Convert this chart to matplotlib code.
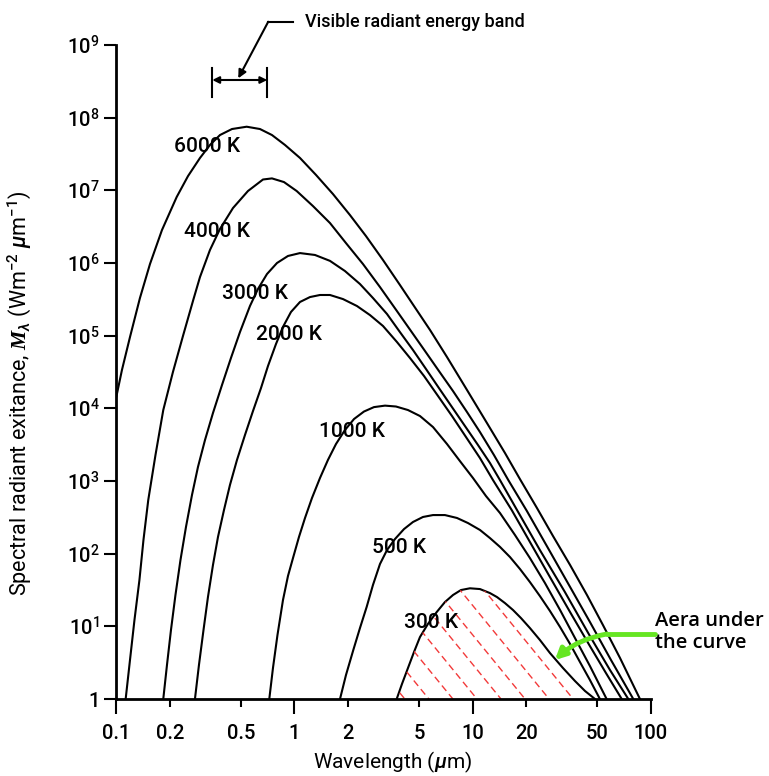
import matplotlib
matplotlib.use('Agg')
import matplotlib.pyplot as plt
from matplotlib.patches import Polygon
from matplotlib.ticker import FixedLocator, FixedFormatter, NullLocator
import numpy as np

plt.rcParams['font.family'] = ['Roboto', 'DejaVu Sans']
plt.rcParams['font.weight'] = 'medium'
plt.rcParams['mathtext.fontset'] = 'custom'
plt.rcParams['mathtext.rm'] = 'Roboto:medium'
plt.rcParams['mathtext.it'] = 'Roboto:italic:medium'
plt.rcParams['mathtext.bf'] = 'Roboto:bold'
plt.rcParams['mathtext.bfit'] = 'Liberation Serif:italic:bold'

# wavelength (um) and spectral exitance (W m-2 um-1)
wl_6000 = [0.1, 0.1076, 0.1194, 0.1358, 0.1546, 0.1805, 0.2183, 0.2527, 0.2951, 0.3357,
           0.3821, 0.4463, 0.5396, 0.6408, 0.7483, 0.8855, 1.075, 1.322, 1.646, 2.051,
           2.522, 3.143, 3.914, 4.814, 5.77, 7.19, 9.31, 12.05, 15.21, 18.47,
           23.0, 28.3, 35.3, 43.9, 54.0, 67.3, 87.1]
m_6000 = [1.43e4, 3.37e4, 9.58e4, 3.30e5, 9.68e5, 2.84e6, 8.09e6, 1.57e7, 2.79e7, 4.21e7,
          5.77e7, 6.98e7, 7.51e7, 6.98e7, 5.77e7, 4.21e7, 2.79e7, 1.63e7, 8.90e6, 4.57e6,
          2.35e6, 1.10e6, 4.98e5, 2.33e5, 1.20e5, 5.08e4, 1.79e4, 6.28e3, 2.43e3, 1.06e3,
          425, 175, 69.8, 27.0, 10.4, 3.67, 1.0]

wl_4000 = [0.1129, 0.1194, 0.1265, 0.1349, 0.1421, 0.1512, 0.166, 0.1836, 0.208, 0.2368,
           0.2705, 0.2951, 0.3357, 0.3821, 0.4521, 0.5487, 0.6664, 0.7483, 0.874, 1.03,
           1.271, 1.584, 1.948, 2.427, 3.023, 3.765, 4.512, 5.41, 6.48, 7.77,
           9.31, 11.01, 13.19, 15.88, 20.2, 26.5, 35.3, 45.6, 59.9, 79.9]
m_4000 = [1.0, 3.44, 12.2, 43.4, 154, 547, 2.28e3, 9.48e3, 3.16e4, 9.89e4,
          3.10e5, 6.41e5, 1.51e6, 2.94e6, 5.71e6, 9.79e6, 1.41e7, 1.46e7, 1.30e7, 9.79e6,
          6.08e6, 3.55e6, 1.88e6, 9.68e5, 4.67e5, 2.18e5, 1.16e5, 6.15e4, 3.26e4, 1.73e4,
          8.9e3, 4.72e3, 2.28e3, 1.03e3, 386, 120, 34.8, 11.5, 3.44, 1.0]

wl_3000 = [0.1836, 0.1926, 0.2028, 0.2149, 0.2293, 0.2462, 0.2661, 0.2875, 0.3148, 0.349,
           0.3921, 0.4404, 0.4947, 0.563, 0.6243, 0.7015, 0.7984, 0.9203, 1.075, 1.305,
           1.584, 1.922, 2.334, 2.761, 3.309, 3.914, 4.632, 5.48, 6.48, 7.67,
           9.07, 10.73, 12.53, 14.26, 17.77, 23.9, 33.0, 45.6, 59.1, 74.9]
m_3000 = [1.0, 2.94, 8.90, 27.0, 81.8, 233, 642, 1.56e3, 3.66e3, 8.62e3,
          2.09e4, 4.93e4, 1.12e5, 2.56e5, 4.39e5, 7.05e5, 1.0e6, 1.25e6, 1.37e6, 1.29e6,
          1.07e6, 7.76e5, 5.14e5, 3.30e5, 1.99e5, 1.12e5, 6.35e4, 3.48e4, 1.90e4, 1.04e4,
          5.71e3, 3.13e3, 1.77e3, 1.03e3, 399, 112, 29.7, 7.36, 2.51, 1.0]

wl_2000 = [0.2765, 0.2912, 0.3088, 0.3271, 0.349, 0.3724, 0.4024, 0.4347, 0.4761, 0.5279,
           0.5855, 0.6492, 0.7106, 0.788, 0.8627, 0.9568, 1.075, 1.223, 1.392, 1.584,
           1.874, 2.245, 2.657, 3.143, 3.765, 4.455, 5.34, 6.40, 7.67, 9.19,
           11.01, 13.03, 16.59, 21.0, 27.2, 35.3, 45.6, 56.1, 68.8]
m_2000 = [1.0, 2.94, 8.90, 25.3, 69.8, 170, 399, 881, 1.95e3, 4.30e3,
          9.19e3, 1.90e4, 3.82e4, 7.67e4, 1.32e5, 2.12e5, 2.91e5, 3.40e5, 3.63e5, 3.63e5,
          3.19e5, 2.56e5, 1.92e5, 1.36e5, 8.18e4, 4.93e4, 2.79e4, 1.48e4, 7.84e3, 4.03e3,
          2.07e3, 1.03e3, 399, 145, 47.7, 15.7, 5.36, 2.28, 1.0]

wl_1000 = [0.7228, 0.758, 0.8035, 0.8627, 0.9203, 0.9856, 1.061, 1.147, 1.255, 1.392,
           1.543, 1.712, 1.922, 2.161, 2.458, 2.797, 3.225, 3.718, 4.341, 5.07,
           6.0, 7.19, 8.50, 10.06, 11.9, 14.26, 17.3, 21.0, 25.5, 31.0,
           37.6, 45.6, 56.6]
m_1000 = [1.0, 2.67, 7.60, 23.0, 49.3, 89.9, 170, 310, 583, 1.10e3,
          1.95e3, 3.23e3, 5.03e3, 7.13e3, 9.04e3, 1.04e4, 1.09e4, 1.06e4, 9.48e3, 7.84e3,
          5.53e3, 3.23e3, 1.88e3, 1.10e3, 621, 363, 181, 87.1, 39.5, 16.8,
          6.91, 2.85, 1.0]

wl_500 = [1.803, 1.948, 2.141, 2.334, 2.545, 2.761, 3.023, 3.309, 3.669, 4.123,
          4.632, 5.27, 6.0, 7.0, 8.18, 9.43, 11.01, 12.53, 14.26, 16.23,
          18.47, 21.0, 23.9, 27.2, 31.0, 35.3, 40.1, 45.6, 51.9]
m_500 = [1.0, 2.14, 4.72, 9.48, 18.5, 37.1, 72.1, 112, 159, 218,
         273, 320, 340, 340, 310, 264, 212, 164, 124, 89.9,
         61.5, 40.7, 26.1, 16.3, 9.79, 5.71, 3.23, 1.83, 1.0]

wl_300 = [3.752, 4.017, 4.341, 4.692, 5.07, 5.62, 6.29, 7.0, 7.77, 8.61,
          9.67, 11.01, 12.53, 13.72, 15.21, 16.87, 18.71, 21.0, 23.9, 27.2,
          32.2, 37.6, 42.8, 48.7]
m_300 = [1.0, 1.61, 2.67, 4.43, 7.13, 10.8, 15.7, 21.6, 27.0, 31.6,
         33.4, 32.6, 28.7, 25.3, 20.9, 16.8, 13.0, 9.48, 6.49, 4.30,
         2.67, 1.77, 1.29, 1.0]

curve_names = ['6000 K', '4000 K', '3000 K', '2000 K', '1000 K', '500 K', '300 K']
label_x = [0.323, 0.370, 0.601, 0.930, 2.118, 3.865, 5.845]
label_y = [3.98e7, 2.70e6, 3.83e5, 1.05e5, 4.77e3, 120, 11.3]

x_major = [0.1, 1, 10, 100]
x_major_labels = ['0.1', '1', '10', '100']
x_minor = [0.2, 0.5, 2, 5, 20, 50]
x_minor_labels = ['0.2', '0.5', '2', '5', '20', '50']
y_ticks = [10.0 ** k for k in range(10)]
y_labels = ['1'] + [r'$10^{%d}$' % k for k in range(1, 10)]

visible_band = [0.346, 0.704]

fig = plt.figure(figsize=(7.69, 7.76), dpi=100)
ax = fig.add_axes([0.1512, 0.0992, 0.6949, 0.8428])

curves = [(wl_6000, m_6000), (wl_4000, m_4000), (wl_3000, m_3000), (wl_2000, m_2000),
          (wl_1000, m_1000), (wl_500, m_500), (wl_300, m_300)]
for wl, m in curves:
    ax.plot(wl, m, color='black', lw=1.5, solid_joinstyle='round', solid_capstyle='round')

for name, x, y in zip(curve_names, label_x, label_y):
    ax.text(x, y, name, fontsize=15, ha='center', va='center')

ax.set_xscale('log')
ax.set_yscale('log')
ax.set_xlim(0.1, 100)
ax.set_ylim(1, 1e9)

# red dashed hatching under the 300 K curve
red = '#f23a3a'
area = Polygon(list(zip(wl_300, m_300)), closed=True, facecolor='none', edgecolor='none',
               transform=ax.transData)
ax.add_patch(area)
for xb in np.arange(0.540 - 20 * 0.045, 1.0, 0.045):
    ln, = ax.plot([xb - 1.0, xb], [1, 0], transform=ax.transAxes, color=red, lw=1.0,
                  ls=(0, (5, 3)))
    ln.set_clip_path(area)

# visible band marker
band_y = 3.30e8
for bx in visible_band:
    ax.plot([bx, bx], [1.94e8, 4.78e8], color='black', lw=1.5)
ax.annotate('', xy=(visible_band[0], band_y), xytext=(visible_band[1], band_y),
            arrowprops=dict(arrowstyle='<|-|>', color='black', lw=1.5, mutation_scale=10,
                            shrinkA=0, shrinkB=0))
ax.plot([0.9856, 0.713], [2.09e9, 2.09e9], color='black', lw=1.5, clip_on=False)
ax.annotate('', xy=(0.484, 3.48e8), xytext=(0.713, 2.09e9), annotation_clip=False,
            arrowprops=dict(arrowstyle='-|>', color='black', lw=1.5, mutation_scale=12,
                            shrinkA=0, shrinkB=0))
ax.text(1.147, 2.09e9, 'Visible radiant energy band', fontsize=13, ha='left', va='center')

# green pointer to the area under the curve
green = '#66e622'
ax.plot([105.7, 56.6], [7.84, 7.84], color=green, lw=3.5, clip_on=False, solid_capstyle='round')
ax.annotate('', xy=(29.0, 3.44), xytext=(56.6, 7.84), annotation_clip=False,
            arrowprops=dict(arrowstyle='-|>', color=green, lw=3.5, mutation_scale=16,
                            shrinkA=0, shrinkB=0, connectionstyle='arc3,rad=0.15'))
ax.text(105.7, 8.36, 'Aera under\nthe curve', fontsize=14.5, family='Open Sans',
        fontweight='semibold', ha='left', va='center', linespacing=1.15)

# axes styling
for side in ['top', 'right']:
    ax.spines[side].set_visible(False)
for side in ['left', 'bottom']:
    ax.spines[side].set_linewidth(2)

ax.xaxis.set_major_locator(FixedLocator(x_major))
ax.xaxis.set_major_formatter(FixedFormatter(x_major_labels))
ax.xaxis.set_minor_locator(FixedLocator(x_minor))
ax.xaxis.set_minor_formatter(FixedFormatter(x_minor_labels))
ax.yaxis.set_major_locator(FixedLocator(y_ticks))
ax.yaxis.set_major_formatter(FixedFormatter(y_labels))
ax.yaxis.set_minor_locator(NullLocator())

ax.tick_params(axis='x', which='major', length=11, width=1.5, pad=7, labelsize=14.5)
ax.tick_params(axis='x', which='minor', length=5.5, width=1.5, pad=12.5, labelsize=14.5)
ax.tick_params(axis='y', which='major', length=9, width=1.5, pad=3, labelsize=14.5)

ax.set_xlabel(r'Wavelength ($\mu$m)', fontsize=15)
ax.set_ylabel(r'Spectral radiant exitance, $\mathbfit{M}_{\lambda}$ (Wm$^{-2}$ $\mu$m$^{-1}$)',
              fontsize=15.5)
ax.xaxis.set_label_coords(0.517, -0.077)
ax.yaxis.set_label_coords(-0.156, 0.468)

fig.savefig('out.png', dpi=100)
